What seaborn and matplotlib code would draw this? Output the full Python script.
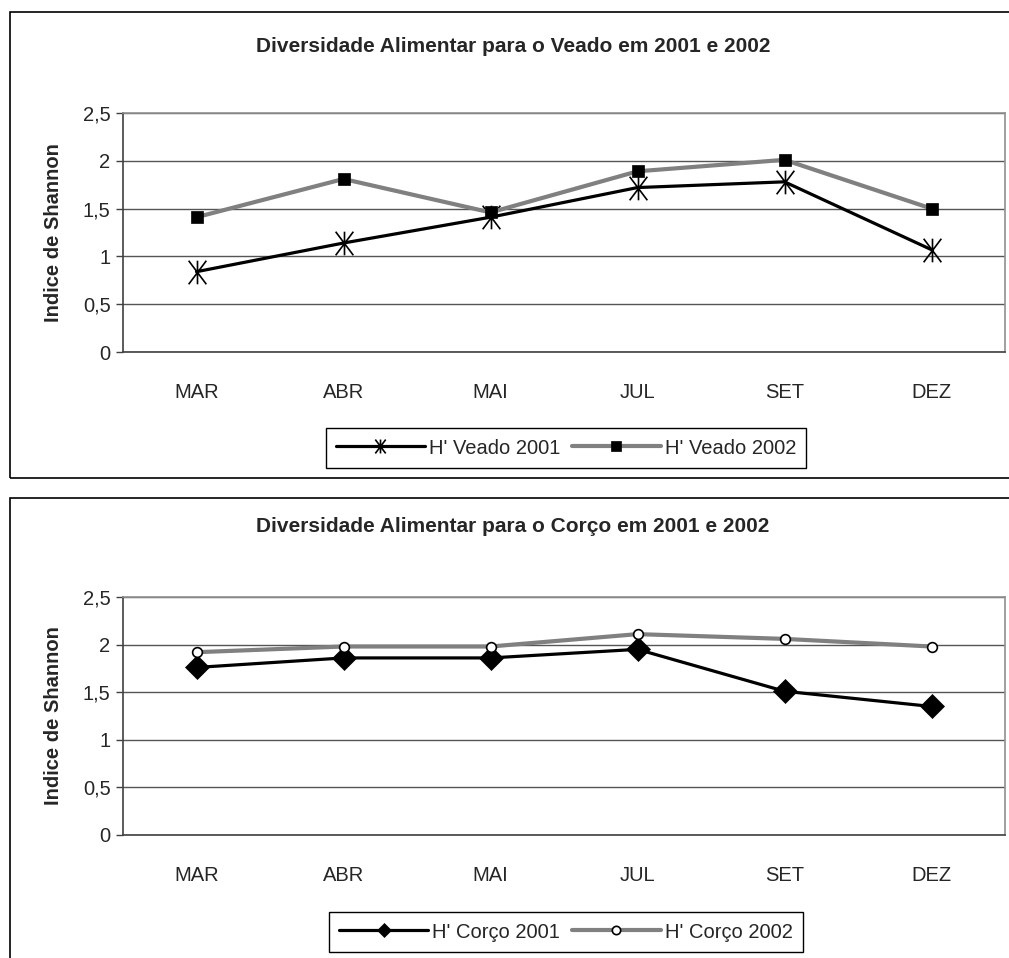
import numpy as np
import pandas as pd
import matplotlib
matplotlib.use("Agg")
import matplotlib.pyplot as plt
from matplotlib.patches import Rectangle
from matplotlib.path import Path
import seaborn as sns

# --------------------------------------------------------------------
# DATA
# --------------------------------------------------------------------
meses = ['MAR', 'ABR', 'MAI', 'JUL', 'SET', 'DEZ']
veado_2001 = [0.84, 1.14, 1.41, 1.72, 1.78, 1.07]
veado_2002 = [1.41, 1.81, 1.46, 1.89, 2.01, 1.50]
corco_2001 = [1.76, 1.86, 1.86, 1.95, 1.51, 1.35]
corco_2002 = [1.92, 1.98, 1.98, 2.11, 2.06, 1.98]
y_ticks = [0, 0.5, 1, 1.5, 2, 2.5]
y_ticklabels = ['0', '0,5', '1', '1,5', '2', '2,5']

sns.set_style("white")
plt.rcParams['font.family'] = ['Liberation Sans', 'DejaVu Sans']

W, H = 1009, 958
fig = plt.figure(figsize=(W / 100, H / 100), dpi=100)

# Excel-style asterisk: an X with a vertical bar
asterisco = Path([(0, -1), (0, 1), (-0.75, -1), (0.75, 1), (-0.75, 1), (0.75, -1)],
                 [Path.MOVETO, Path.LINETO] * 3)


def px_box(x0, y0, x1, y1):
    # pixel box (top-left origin) -> figure fraction [left, bottom, width, height]
    return [x0 / W, 1 - y1 / H, (x1 - x0) / W, (y1 - y0) / H]


# panel borders
for (y0, y1) in [(12, 478), (498, 975)]:
    l, b, w, h = px_box(10, y0, 1030, y1)
    fig.patches.append(Rectangle((l, b), w, h, transform=fig.transFigure,
                                 fill=False, edgecolor='black', linewidth=1.2))

panels = [
    dict(box=(123, 113, 1005, 352), title='Diversidade Alimentar para o Veado em 2001 e 2002',
         title_y=46, legend_y=448,
         series=[('H\' Veado 2001', veado_2001, 'black', 2.3, 10,
                  dict(marker=asterisco, markersize=17, markeredgecolor='black',
                       markerfacecolor='none', markeredgewidth=1.2)),
                 ('H\' Veado 2002', veado_2002, '#808080', 3.0, 7,
                  dict(marker='s', markersize=8, markeredgecolor='black',
                       markerfacecolor='black', markeredgewidth=0.5))]),
    dict(box=(123, 597, 1005, 835), title='Diversidade Alimentar para o Corço em 2001 e 2002',
         title_y=527, legend_y=932,
         series=[('H\' Corço 2001', corco_2001, 'black', 2.3, 7,
                  dict(marker='D', markersize=12, markeredgecolor='black',
                       markerfacecolor='black', markeredgewidth=0.5)),
                 ('H\' Corço 2002', corco_2002, '#808080', 3.0, 6,
                  dict(marker='o', markersize=7, markeredgecolor='black',
                       markerfacecolor='white', markeredgewidth=1.2))]),
]

for p in panels:
    ax = fig.add_axes(px_box(*p['box']))
    for label, vals, color, lw, leg_ms, mk in p['series']:
        df = pd.DataFrame({'mes': meses, 'H': vals})
        sns.lineplot(data=df, x='mes', y='H', ax=ax, color=color, linewidth=lw,
                     sort=False, label=label, **mk)

    ax.set_xlim(-0.5, len(meses) - 0.5)
    ax.set_ylim(0, 2.5)
    ax.set_yticks(y_ticks)
    ax.set_yticklabels(y_ticklabels)
    ax.set_xticks(range(len(meses)))
    ax.set_xticklabels(meses)
    ax.set_xticks(np.arange(-0.5, len(meses), 1.0), minor=True)
    ax.tick_params(axis='x', which='major', length=0, pad=22, labelsize=14.5)
    ax.tick_params(axis='x', which='minor', length=5, width=1, color='#404040',
                   direction='out')
    ax.tick_params(axis='y', length=5, width=1, color='#404040', direction='out',
                   labelsize=14.5, pad=4, left=True)
    ax.yaxis.grid(True, color='#555555', linewidth=1)
    ax.set_axisbelow(True)
    ax.set_xlabel('')
    ax.set_ylabel('Indice de Shannon', fontsize=14.5, fontweight='bold', labelpad=14)
    for side in ['left', 'bottom']:
        ax.spines[side].set_color('#404040')
        ax.spines[side].set_linewidth(1.2)
    for side in ['top', 'right']:
        ax.spines[side].set_color('#909090')
        ax.spines[side].set_linewidth(1.2)

    fig.text(513 / W, 1 - p['title_y'] / H, p['title'], ha='center', va='center',
             fontsize=15, fontweight='bold')

    leg = ax.legend(loc='center', bbox_to_anchor=(566 / W, 1 - p['legend_y'] / H),
                    bbox_transform=fig.transFigure, ncol=2, frameon=True, fancybox=False,
                    edgecolor='black', framealpha=1, fontsize=14.5, handlelength=4.4,
                    handletextpad=0.2, columnspacing=0.6, borderpad=0.5, numpoints=1)
    leg.get_frame().set_linewidth(1.0)
    for h, s in zip(leg.legend_handles, p['series']):
        h.set_markersize(s[4])

fig.savefig('out.png', dpi=100)
